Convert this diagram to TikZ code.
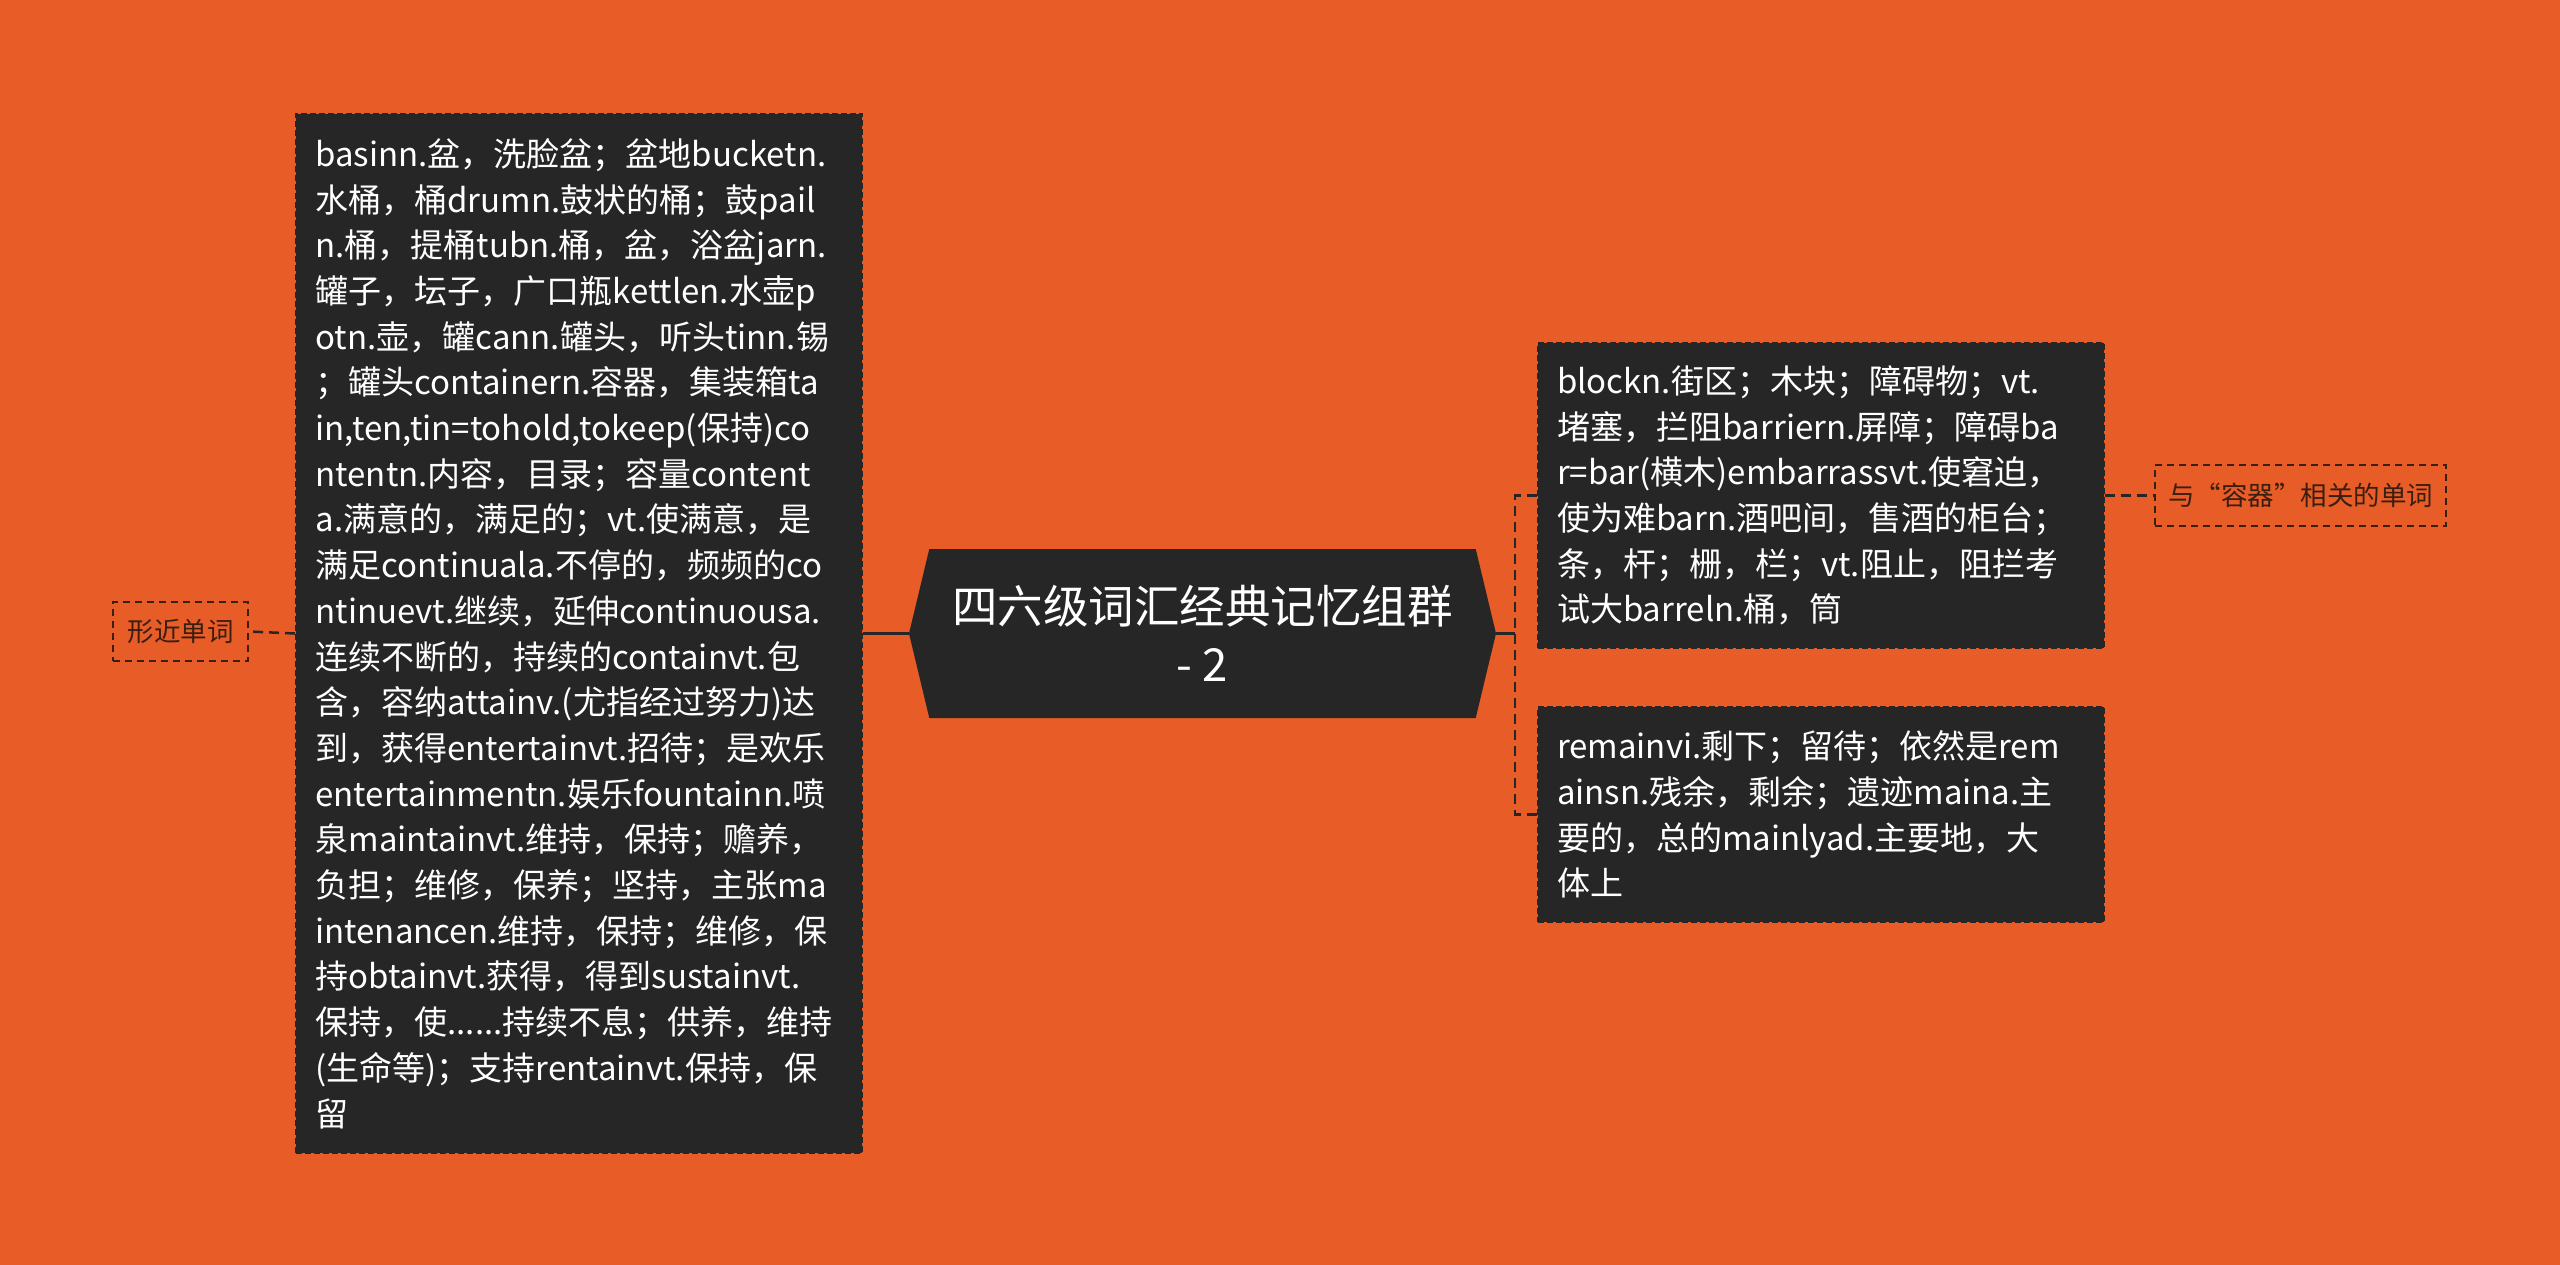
\documentclass[tikz,border=0pt]{standalone}
\usepackage{fontspec}
\usepackage{xcolor}
\usepackage{tikz}
\usetikzlibrary{shapes.symbols}
\newfontfamily\cjk{Noto Sans CJK SC}
\definecolor{bgorange}{RGB}{232,92,40}
\definecolor{boxdark}{RGB}{38,38,38}
\definecolor{labelink}{RGB}{58,30,16}
\tikzstyle{solidlink} = [draw=boxdark, line width=3.5pt]
\tikzstyle{dashlink} = [draw=boxdark, line width=2.5pt, dash pattern=on 10pt off 6pt]

\begin{document}
\begin{tikzpicture}[x=1pt, y=-1pt,
    topic/.style={signal, signal to=west and east, signal pointer angle=153, fill=boxdark, text=white, minimum width=587pt, minimum height=169pt, inner sep=0pt, align=center, font=\cjk\fontsize{45.5}{58}\selectfont},
    leaf/.style={rectangle, fill=boxdark, draw=black!85, dash pattern=on 6pt off 3pt, line width=2pt, text=white, align=left, text width=527pt, inner sep=0pt, minimum width=566pt, font=\cjk\fontsize{33}{45.7}\selectfont},
    tag/.style={rectangle, draw=labelink, dash pattern=on 7pt off 5pt, line width=2pt, text=labelink, inner sep=0pt, font=\cjk\fontsize{26.5}{30}\selectfont},
]
    % Background
    \fill[bgorange] (0,0) rectangle (2560,1265);
    \useasboundingbox (0,0) rectangle (2560,1265);

    % Central topic
    \node[topic] (root) at (1202.5,633.5) {四六级词汇经典记忆组群\\- 2};

    % Left branch
    \node[leaf, minimum height=1039pt] (similar) at (579,633.5) {basinn.盆，洗脸盆；盆地bucketn.\\水桶，桶drumn.鼓状的桶；鼓pail\\n.桶，提桶tubn.桶，盆，浴盆jarn.\\罐子，坛子，广口瓶kettlen.水壶p\\otn.壶，罐cann.罐头，听头tinn.锡\\；罐头containern.容器，集装箱ta\\in,ten,tin=tohold,tokeep(保持)co\\ntentn.内容，目录；容量content\\a.满意的，满足的；vt.使满意，是\\满足continuala.不停的，频频的co\\ntinuevt.继续，延伸continuousa.\\连续不断的，持续的containvt.包\\含，容纳attainv.(尤指经过努力)达\\到，获得entertainvt.招待；是欢乐\\entertainmentn.娱乐fountainn.喷\\泉maintainvt.维持，保持；赡养，\\负担；维修，保养；坚持，主张ma\\intenancen.维持，保持；维修，保\\持obtainvt.获得，得到sustainvt.\\保持，使......持续不息；供养，维持\\(生命等)；支持rentainvt.保持，保\\留};
    \node[tag, minimum width=135pt, minimum height=59pt] (similartag) at (180.5,631.5) {形近单词};

    % Right branch
    \node[leaf, minimum height=305pt] (block) at (1820.5,495.5) {blockn.街区；木块；障碍物；vt.\\堵塞，拦阻barriern.屏障；障碍ba\\r=bar(横木)embarrassvt.使窘迫，\\使为难barn.酒吧间，售酒的柜台；\\条，杆；栅，栏；vt.阻止，阻拦考\\试大barreln.桶，筒};
    \node[leaf, minimum height=215pt] (remain) at (1820.5,814.5) {remainvi.剩下；留待；依然是rem\\ainsn.残余，剩余；遗迹maina.主\\要的，总的mainlyad.主要地，大\\体上};
    \node[tag, minimum width=291pt, minimum height=61pt] (containtag) at (2300.5,495.5) {与“容器”相关的单词};
    \coordinate (fork) at (1515,633.5);

    % Connections
    \draw[solidlink] (root.west) -- (similar.east);
    \draw[dashlink] (similar.west) -- (similartag.east);
    \draw[solidlink] (root.east) -- (fork);
    \draw[dashlink] (block.west) -| (fork) |- (remain.west);
    \draw[dashlink] (block.east) -- (containtag.west);
\end{tikzpicture}
\end{document}
